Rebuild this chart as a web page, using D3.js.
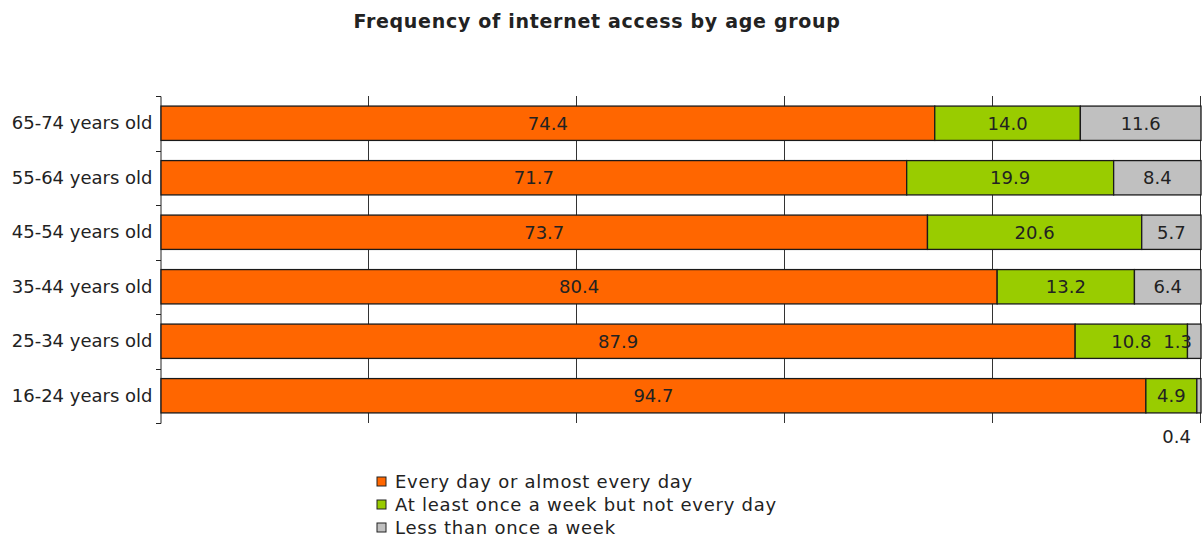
<!DOCTYPE html>
<html>
<head>
<meta charset="utf-8">
<script src="https://cdn.jsdelivr.net/npm/d3@7"></script>
<style>
  body { margin: 0; background: #fff; }
  svg text { font-family: "DejaVu Sans", sans-serif; fill: #222; }
</style>
</head>
<body>
<svg id="chart" width="1202" height="537"></svg>
<script>
// age groups, top to bottom
var ageGroups = ["65-74 years old", "55-64 years old", "45-54 years old", "35-44 years old", "25-34 years old", "16-24 years old"];
var everyDay = [74.4, 71.7, 73.7, 80.4, 87.9, 94.7];
var weekly = [14.0, 19.9, 20.6, 13.2, 10.8, 4.9];
var lessWeekly = [11.6, 8.4, 5.7, 6.4, 1.3, 0.4];
var seriesNames = ["Every day or almost every day", "At least once a week but not every day", "Less than once a week"];
var seriesColors = ["#ff6600", "#99cc00", "#c0c0c0"];
var gridTicks = [20, 40, 60, 80, 100];

var svg = d3.select("#chart");
var plotLeft = 161, plotRight = 1201, plotTop = 96, plotBottom = 423;

var x = d3.scaleLinear().domain([0, 100]).range([plotLeft, plotRight]);
var y = d3.scaleBand().domain(ageGroups).range([plotTop, plotBottom]);
var barH = y.bandwidth() * 0.63;

var rows = ageGroups.map(function (g, i) {
    return { group: g, vals: [everyDay[i], weekly[i], lessWeekly[i]] };
});

// title
svg.append("text")
    .attr("x", 597).attr("y", 28)
    .attr("text-anchor", "middle")
    .style("font-size", "19px").style("font-weight", "bold")
    .style("letter-spacing", "0.7px")
    .text("Frequency of internet access by age group");

// vertical gridlines
svg.selectAll(".grid").data(gridTicks).enter().append("line")
    .attr("x1", function (d) { return Math.round(x(d)) - 0.5; }).attr("x2", function (d) { return Math.round(x(d)) - 0.5; })
    .attr("y1", plotTop).attr("y2", plotBottom)
    .attr("stroke", "#333").attr("stroke-width", 1);

// y axis
var yAxis = d3.axisLeft(y).tickSize(0).tickPadding(8);
var ya = svg.append("g").attr("transform", "translate(" + (plotLeft - 0.5) + ",0)").call(yAxis);
ya.select(".domain").attr("stroke", "#222");
ya.selectAll("text").style("font-size", "18px").style("font-family", "DejaVu Sans, sans-serif")
    .attr("fill", "#222");
// tick marks on band boundaries
var bounds = ageGroups.map(function (g) { return y(g); }).concat([plotBottom]);
svg.selectAll(".ytick").data(bounds).enter().append("line")
    .attr("x1", plotLeft - 5).attr("x2", plotLeft)
    .attr("y1", function (d) { return Math.round(d) + 0.5; }).attr("y2", function (d) { return Math.round(d) + 0.5; })
    .attr("stroke", "#222");

// bars
var rowG = svg.selectAll(".row").data(rows).enter().append("g")
    .attr("transform", function (d) { return "translate(0," + (y(d.group) + (y.bandwidth() - barH) / 2) + ")"; });

rowG.each(function (d) {
    var g = d3.select(this);
    var rowY = y(d.group) + (y.bandwidth() - barH) / 2;
    var acc = 0;
    d.vals.forEach(function (v, k) {
        var x0 = acc, x1 = acc + v;
        acc = x1;
        g.append("rect")
            .attr("x", x(x0)).attr("y", 0)
            .attr("width", x(x1) - x(x0)).attr("height", barH)
            .attr("fill", seriesColors[k])
            .attr("stroke", "#1a1a1a").attr("stroke-width", 1.3);
        var lbl = g.append("text")
            .style("font-size", "18px")
            .text(v.toFixed(1));
        if (v < 1) {
            // too small: label goes under the axis
            lbl.attr("x", x(x1) - 10).attr("y", plotBottom - rowY + 20)
                .attr("text-anchor", "end");
        } else {
            lbl.attr("x", x((x0 + x1) / 2)).attr("y", barH / 2 + 6.5)
                .attr("text-anchor", "middle");
            // keep label inside the plot area
            var bb = lbl.node().getBBox();
            if (bb.x + bb.width > plotRight - 9) {
                lbl.attr("x", plotRight - 9).attr("text-anchor", "end");
            }
        }
    });
});

// legend
var leg = svg.selectAll(".leg").data(seriesNames).enter().append("g")
    .attr("transform", function (d, i) { return "translate(377," + (477 + i * 23) + ")"; });
leg.append("rect").attr("width", 9).attr("height", 9)
    .attr("fill", function (d, i) { return seriesColors[i]; })
    .attr("stroke", "#222").attr("stroke-width", 1);
leg.append("text").attr("x", 18).attr("y", 11)
    .style("font-size", "18px").style("letter-spacing", "0.75px")
    .text(function (d) { return d; });
</script>
</body>
</html>
